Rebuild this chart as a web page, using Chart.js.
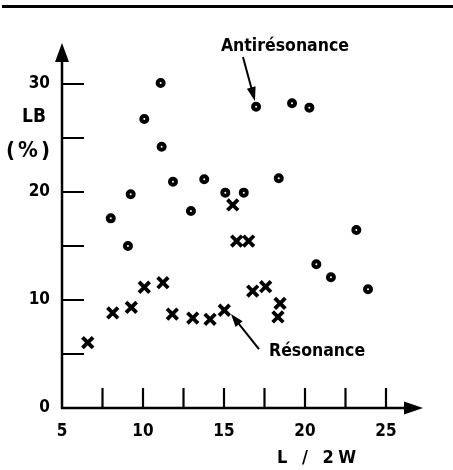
<!DOCTYPE html>
<html>
<head>
<meta charset="utf-8">
<script src="https://cdn.jsdelivr.net/npm/chart.js@4/dist/chart.umd.min.js"></script>
<style>
html,body{margin:0;padding:0;background:#fff;}
canvas{display:block;}
</style>
</head>
<body>
<canvas id="c" width="453" height="470"></canvas>
<script>
// Antirésonance (circles)
const antiX = [11.09,10.08,11.15,11.85,13.78,9.24,8.01,12.96,15.08,16.22,16.98,19.20,20.27,18.38,23.17,9.07,20.70,21.60,23.89];
const antiY = [30.09,26.76,24.19,20.95,21.18,19.79,17.56,18.24,19.94,19.94,27.90,28.21,27.81,21.27,16.48,15.00,13.31,12.10,10.99];
// Résonance (crosses)
const resX = [15.54,15.78,16.52,10.08,11.23,8.13,9.28,6.59,11.81,13.07,14.14,15.02,16.77,17.57,18.46,18.33];
const resY = [18.80,15.46,15.46,11.18,11.60,8.80,9.32,6.05,8.70,8.33,8.21,9.05,10.83,11.23,9.69,8.43];
// axis ticks
const xTickValues = [5,7.5,10,12.5,15,17.5,20,22.5,25];
const xTickLabels = ['5','10','15','20','25'];
const yTickValues = [0,5,10,15,20,25,30];
const yTickLabels = ['0','10','20','30'];
const yTitle = ['LB','(%)'];
const xTitle = 'L / 2W';
const antiLabel = 'Antirésonance';
const resLabel = 'Résonance';

const FONT = "'DejaVu Sans Condensed', 'DejaVu Sans', sans-serif";

function pts(xs, ys){ return xs.map((x,i)=>({x:x,y:ys[i]})); }

function arrow(ctx, x1, y1, x2, y2, headLen, headW){
  const a = Math.atan2(y2-y1, x2-x1);
  ctx.beginPath();
  ctx.moveTo(x1,y1);
  ctx.lineTo(x2 - Math.cos(a)*headLen*0.8, y2 - Math.sin(a)*headLen*0.8);
  ctx.stroke();
  ctx.beginPath();
  ctx.moveTo(x2,y2);
  ctx.lineTo(x2 - Math.cos(a)*headLen + Math.sin(a)*headW, y2 - Math.sin(a)*headLen - Math.cos(a)*headW);
  ctx.lineTo(x2 - Math.cos(a)*headLen - Math.sin(a)*headW, y2 - Math.sin(a)*headLen + Math.cos(a)*headW);
  ctx.closePath();
  ctx.fill();
}

const decor = {
  id: 'decor',
  afterDraw(chart){
    const ctx = chart.ctx;
    const xs = chart.scales.x, ys = chart.scales.y;
    const ca = chart.chartArea;
    const x0 = xs.getPixelForValue(xTickValues[0]);
    const y0 = ys.getPixelForValue(yTickValues[0]);
    ctx.save();
    ctx.fillStyle = '#000';
    ctx.strokeStyle = '#000';
    // top rule
    ctx.fillRect(2, 5, chart.width - 2, 3);
    // axes
    ctx.lineWidth = 2.5;
    ctx.lineCap = 'butt';
    ctx.beginPath();
    ctx.moveTo(x0, y0 + 1);
    ctx.lineTo(x0, ca.top - 24);
    ctx.moveTo(x0 - 1, y0);
    ctx.lineTo(ca.right + 20, y0);
    ctx.stroke();
    // arrowheads
    ctx.beginPath();
    ctx.moveTo(x0, ca.top - 41);
    ctx.lineTo(x0 - 7, ca.top - 22);
    ctx.lineTo(x0 + 7, ca.top - 22);
    ctx.closePath();
    ctx.fill();
    ctx.beginPath();
    ctx.moveTo(ca.right + 37, y0);
    ctx.lineTo(ca.right + 18, y0 - 6.5);
    ctx.lineTo(ca.right + 18, y0 + 6.5);
    ctx.closePath();
    ctx.fill();
    // inward ticks
    ctx.lineWidth = 2.2;
    ctx.beginPath();
    yTickValues.forEach(v => {
      if (v === yTickValues[0]) return;
      const py = ys.getPixelForValue(v);
      ctx.moveTo(x0, py);
      ctx.lineTo(x0 + 22, py);
    });
    xTickValues.forEach(v => {
      if (v === xTickValues[0]) return;
      const px = xs.getPixelForValue(v);
      ctx.moveTo(px, y0);
      ctx.lineTo(px, y0 - 20);
    });
    ctx.stroke();
    // axis titles
    ctx.textBaseline = 'alphabetic';
    ctx.textAlign = 'left';
    ctx.font = 'bold 19px ' + FONT;
    ctx.letterSpacing = '0px';
    ctx.fillText(yTitle[0], 22, ca.top + 38);
    ctx.font = 'bold 22px ' + FONT;
    ctx.letterSpacing = '3px';
    ctx.fillText(yTitle[1], 6, ca.top + 73);
    ctx.font = 'bold 18px ' + FONT;
    ctx.letterSpacing = '4.5px';
    ctx.fillText(xTitle, 277, y0 + 55);
    // annotations
    ctx.font = 'bold 17.5px ' + FONT;
    ctx.letterSpacing = '0px';
    ctx.fillText(antiLabel, xs.getPixelForValue(14.81), ys.getPixelForValue(33.06));
    ctx.fillText(resLabel, xs.getPixelForValue(17.78), ys.getPixelForValue(4.81));
    ctx.lineWidth = 2;
    arrow(ctx, xs.getPixelForValue(16.17), ys.getPixelForValue(32.5),
               xs.getPixelForValue(16.91), ys.getPixelForValue(28.43), 14, 4.5);
    arrow(ctx, xs.getPixelForValue(17.16), ys.getPixelForValue(5.46),
               xs.getPixelForValue(15.43), ys.getPixelForValue(8.70), 13, 4.5);
    ctx.restore();
  }
};

new Chart(document.getElementById('c'), {
  type: 'scatter',
  data: {
    datasets: [
      {
        label: antiLabel,
        data: pts(antiX, antiY),
        pointStyle: 'circle',
        radius: 3,
        borderWidth: 4,
        borderColor: '#000',
        backgroundColor: '#fff'
      },
      {
        label: resLabel,
        data: pts(resX, resY),
        pointStyle: 'crossRot',
        radius: 7.5,
        borderWidth: 3.8,
        borderColor: '#000',
        backgroundColor: '#000'
      }
    ]
  },
  options: {
    responsive: false,
    animation: false,
    devicePixelRatio: 1,
    clip: false,
    layout: { padding: { top: 84, right: 67, left: 0, bottom: 0 } },
    plugins: { legend: { display: false }, tooltip: { enabled: false } },
    scales: {
      x: {
        type: 'linear',
        min: xTickValues[0],
        max: xTickValues[xTickValues.length - 1],
        afterBuildTicks: s => { s.ticks = xTickValues.map(v => ({ value: v })); },
        afterFit: s => { s.height = 62; },
        grid: { display: false, drawTicks: false },
        border: { display: false },
        ticks: {
          autoSkip: false,
          maxRotation: 0,
          padding: 13,
          color: '#000',
          font: { family: FONT, size: 17, weight: 'bold' },
          callback: v => xTickLabels.includes(String(v)) ? String(v) : ''
        }
      },
      y: {
        type: 'linear',
        min: yTickValues[0],
        max: yTickValues[yTickValues.length - 1],
        afterBuildTicks: s => { s.ticks = yTickValues.map(v => ({ value: v })); },
        afterFit: s => { s.width = 62; },
        grid: { display: false, drawTicks: false },
        border: { display: false },
        ticks: {
          autoSkip: false,
          padding: 12,
          color: '#000',
          font: { family: FONT, size: 17, weight: 'bold' },
          callback: v => yTickLabels.includes(String(v)) ? String(v) : ''
        }
      }
    }
  },
  plugins: [decor]
});
</script>
</body>
</html>
